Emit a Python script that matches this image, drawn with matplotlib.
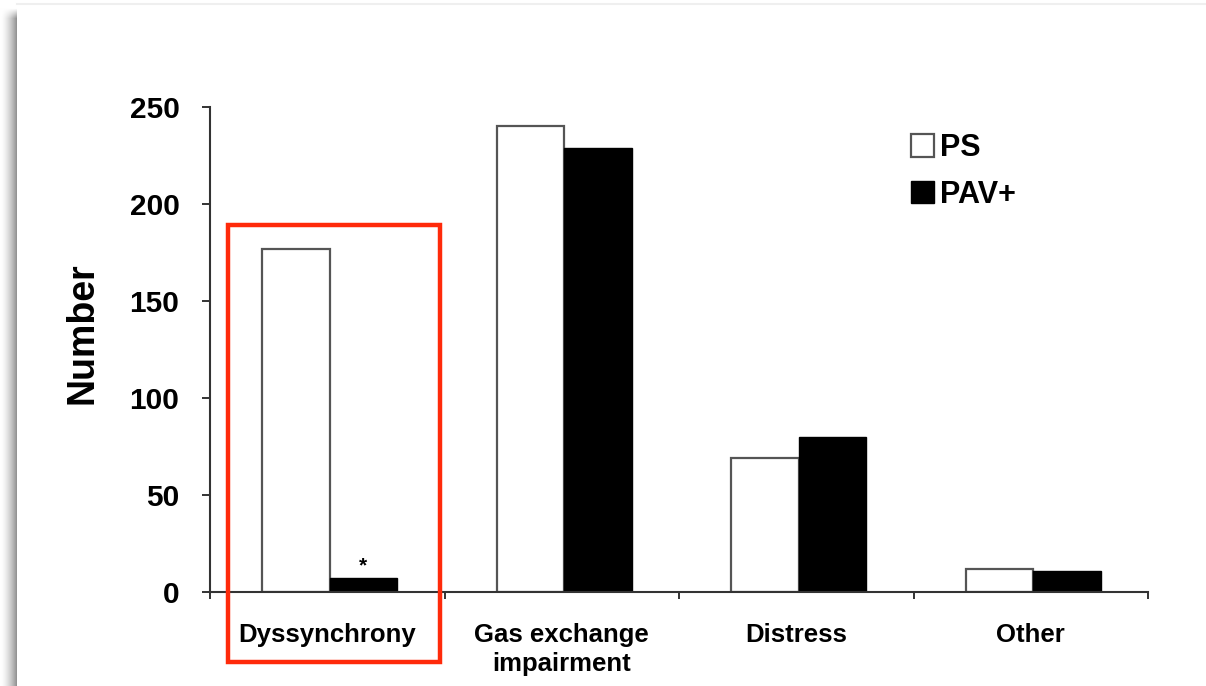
import numpy as np
import matplotlib
matplotlib.use("Agg")
import matplotlib.pyplot as plt
from matplotlib.patches import Rectangle, Patch

# Data
categories = ["Dyssynchrony", "Gas exchange\nimpairment", "Distress", "Other"]
ps_values = [177, 240, 69, 12]
pav_values = [7, 229, 80, 11]
series_labels = ["PS", "PAV+"]
y_ticks = [0, 50, 100, 150, 200, 250]

FONT = "Liberation Sans"

fig = plt.figure(figsize=(12.06, 6.86), dpi=100)
fig.patch.set_facecolor("white")

# soft drop shadow along the left and top edges of the card
W, H = 1206, 686
shadow_ax = fig.add_axes([0, 0, 17 / W, 1 - 4 / H])
grad = np.linspace(0.0, 1.0, 17) ** 1.6
rows = np.ones((H, 1))
img = 1 - 0.42 * grad[None, :] * rows
top_fade = np.clip((np.arange(H) - 4) / 10.0, 0, 1)[:, None]
img = 1 - (1 - img) * top_fade
shadow_ax.imshow(np.dstack([img] * 3), aspect="auto", interpolation="bilinear",
                 extent=[0, 1, 0, 1])
shadow_ax.axis("off")
fig.add_artist(plt.Line2D([17 / W, 1], [1 - 4 / H, 1 - 4 / H],
                          color="#efefef", lw=1.5, transform=fig.transFigure))

ax = fig.add_axes([210 / W, 1 - 592 / H, 938 / W, 485 / H])
x = np.arange(len(categories))
bw = 0.288
shift = 0.01

ax.bar(x + shift - bw / 2, ps_values, bw, color="white", edgecolor="#555555",
       linewidth=1.6, label=series_labels[0], zorder=2)
ax.bar(x + shift + bw / 2, pav_values, bw, color="black", edgecolor="black",
       linewidth=1.0, label=series_labels[1], zorder=2)

# significance marker over the PAV+ dyssynchrony bar
ax.annotate("*", (x[0] + shift + bw / 2, pav_values[0]), xytext=(0, 2),
            textcoords="offset points", ha="center", va="bottom",
            fontsize=15, fontweight="bold", family=FONT)

ax.set_xlim(-0.5, len(categories) - 0.5)
ax.set_ylim(0, 250)
ax.set_yticks(y_ticks)
ax.set_yticklabels([str(v) for v in y_ticks], fontsize=21.5, fontweight="bold",
                   family=FONT)
ax.set_xticks(x)
ax.set_xticklabels(categories, fontsize=18.5, fontweight="bold", family=FONT,
                   linespacing=1.3)
ax.set_xticks(np.arange(-0.5, len(categories)), minor=True)
ax.tick_params(axis="x", which="major", length=0, pad=22)
ax.tick_params(axis="x", which="minor", length=5, width=1.4, direction="out",
               color="#333333")
ax.tick_params(axis="y", length=6, width=1.4, direction="out", pad=16,
               color="#333333")

for side in ("top", "right"):
    ax.spines[side].set_visible(False)
for side in ("left", "bottom"):
    ax.spines[side].set_linewidth(1.5)
    ax.spines[side].set_color("#333333")

ax.set_ylabel("Number", fontsize=27, fontweight="bold", family=FONT)
ax.yaxis.set_label_coords(-0.117, 0.534)

handles = [Patch(facecolor="white", edgecolor="#555555", linewidth=1.6),
           Patch(facecolor="black", edgecolor="black")]
leg = ax.legend(handles, series_labels, loc="upper left",
                bbox_to_anchor=(911 / W, 1 - 133 / H),
                bbox_transform=fig.transFigure, frameon=False,
                prop={"family": FONT, "weight": "bold", "size": 22},
                handlelength=0.75, handleheight=0.75, handletextpad=0.2,
                labelspacing=0.55, borderpad=0, borderaxespad=0)

# highlight box around the dyssynchrony group
ax.add_patch(Rectangle((-0.423, -36), 0.904, 225, fill=False,
                       edgecolor="#ff2a0a", linewidth=3.2, clip_on=False,
                       zorder=5))

fig.savefig("out.png", dpi=100, facecolor="white")
